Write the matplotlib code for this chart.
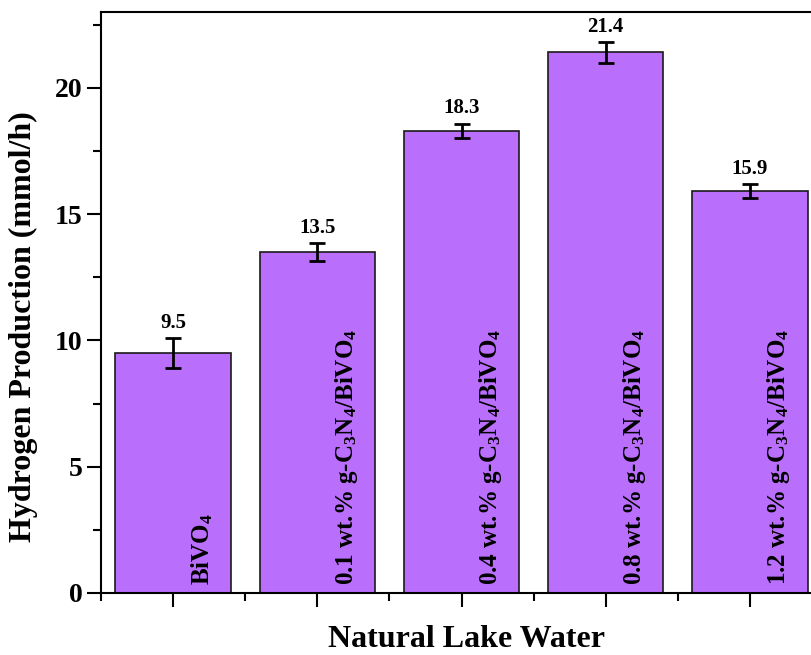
import matplotlib
matplotlib.use('Agg')
import matplotlib.pyplot as plt
from matplotlib.ticker import MultipleLocator, FixedLocator

# data
samples = ['BiVO$_4$',
           '0.1 wt.% g-C$_3$N$_4$/BiVO$_4$',
           '0.4 wt.% g-C$_3$N$_4$/BiVO$_4$',
           '0.8 wt.% g-C$_3$N$_4$/BiVO$_4$',
           '1.2 wt.% g-C$_3$N$_4$/BiVO$_4$']
production = [9.5, 13.5, 18.3, 21.4, 15.9]
errors = [0.58, 0.35, 0.28, 0.4, 0.28]
value_labels = ['9.5', '13.5', '18.3', '21.4', '15.9']

plt.rcParams['font.family'] = 'Liberation Serif'
plt.rcParams['font.weight'] = 'bold'
plt.rcParams['mathtext.fontset'] = 'custom'
plt.rcParams['mathtext.rm'] = 'Liberation Serif:bold'
plt.rcParams['mathtext.it'] = 'Liberation Serif:bold'
plt.rcParams['mathtext.bf'] = 'Liberation Serif:bold'

fig = plt.figure(figsize=(8.12, 6.55), dpi=100)
ax = fig.add_axes([0.1244, 0.0947, 0.8879, 0.887])

x = list(range(len(samples)))
ax.bar(x, production, width=0.8, color='#BA6EFC', edgecolor='#1a1a1a', linewidth=1.2, zorder=2)
ax.errorbar(x, production, yerr=errors, fmt='none', ecolor='black', elinewidth=2,
            capsize=6, capthick=2, zorder=3)

for i in x:
    ax.annotate(value_labels[i], (i, production[i] + errors[i]), xytext=(0, 4),
                textcoords='offset points', ha='center', va='bottom',
                fontsize=15, fontweight='bold')
    ax.text(i + 0.2, 0.3, samples[i], rotation=90, ha='center', va='bottom',
            fontsize=18, fontweight='bold', zorder=4)

ax.set_xlim(-0.5, 4.5)
ax.set_ylim(0, 23)
ax.xaxis.set_major_locator(FixedLocator(x))
ax.xaxis.set_minor_locator(FixedLocator([i + 0.5 for i in range(-1, 5)]))
ax.set_xticklabels([])
ax.yaxis.set_major_locator(MultipleLocator(5))
ax.yaxis.set_minor_locator(MultipleLocator(2.5))

ax.tick_params(axis='both', which='major', direction='out', length=10, width=1.5, labelsize=20)
ax.tick_params(axis='both', which='minor', direction='out', length=6, width=1.5)
for lab in ax.get_yticklabels():
    lab.set_fontweight('bold')

for side in ['left', 'bottom', 'top']:
    ax.spines[side].set_linewidth(1.5)
ax.spines['right'].set_visible(False)

ax.set_ylabel('Hydrogen Production (mmol/h)', fontsize=23, fontweight='bold')
ax.yaxis.set_label_coords(-0.088, 0.458)
ax.set_xlabel('Natural Lake Water', fontsize=23, fontweight='bold')
ax.xaxis.set_label_coords(0.507, -0.055)

fig.savefig('out.png', dpi=100)
